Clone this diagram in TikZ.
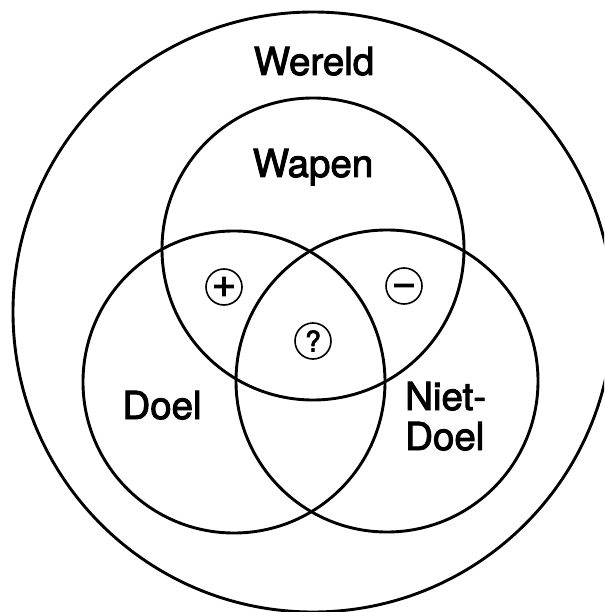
\documentclass[tikz,border=0pt]{standalone}
\usepackage{fontspec}
\setmainfont{TeX Gyre Heros}[FakeBold=2.5]
\usetikzlibrary{positioning}

\begin{document}
\begin{tikzpicture}[x=1pt,y=-1pt,
				verz/.style={circle,draw,line width=2.9pt,minimum size=302pt,inner sep=0pt},
				lbl/.style={inner sep=0pt,font=\fontsize{38.5}{40}\selectfont},
				teken/.style={circle,draw,line width=1.6pt,minimum size=36pt,inner sep=0pt}]
				\useasboundingbox (0,0) rectangle (604,612);
				\clip (0,0) rectangle (604,612);
				
				\node[verz,minimum size=600pt] (wereld) at (313,312){};
				\node[verz] (wapen) at (313,249){};
				\node[verz] (doel) at (234,382){};
				\node[verz] (nietdoel) at (387,381){};
				
				\node[lbl,anchor=base] (twereld) at (314,75){Wereld};
				\node[lbl,anchor=base] (twapen) at (313,177){Wapen};
				\node[lbl,anchor=base] (tdoel) at (162,419){Doel};
				\node[lbl,anchor=base west,align=left] (tnietdoel) at (405,450){Niet-\\Doel};
				
				\node[teken,font=\fontsize{42}{42}\selectfont] (plus) at (224,287){+};
				\node[teken,font=\fontsize{42}{42}\selectfont] (min) at (404,286){\vphantom{+}−};
				\node[teken,font=\fontsize{28.5}{29}\selectfont] (vraag) at (313,341){?};
			\end{tikzpicture}
\end{document}
